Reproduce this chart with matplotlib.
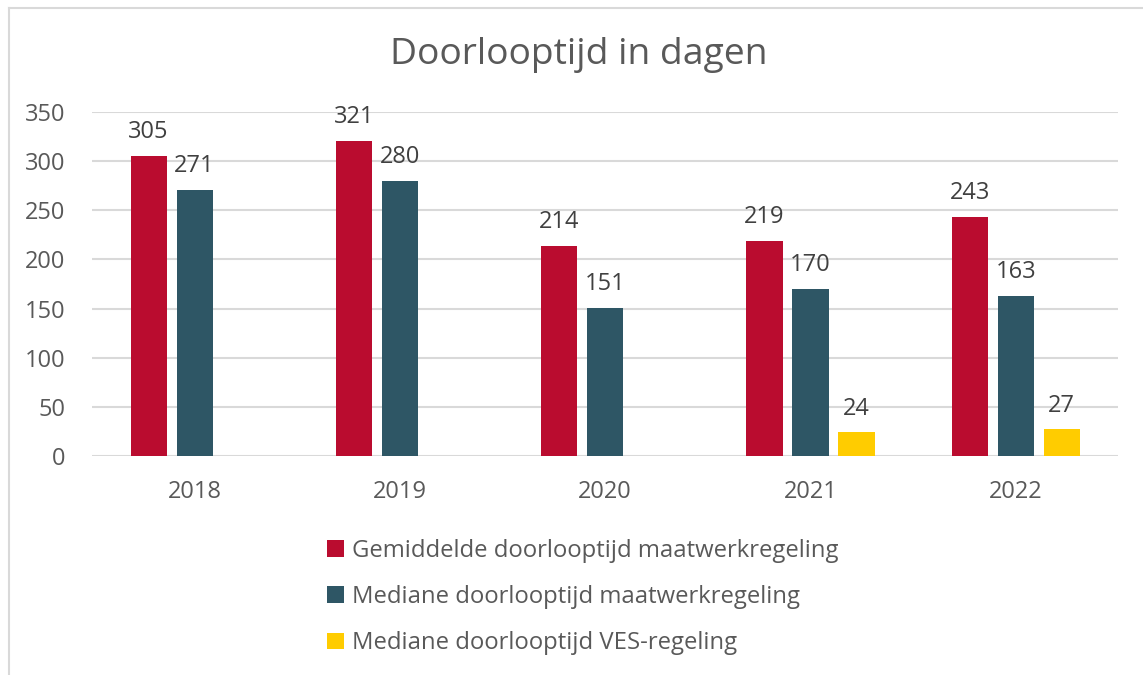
#!/usr/bin/env python3

import numpy as np
import matplotlib.pyplot as plt
from matplotlib.lines import Line2D

plt.rcParams['font.family'] = ['Open Sans', 'DejaVu Sans']

# Data
jaren = ['2018', '2019', '2020', '2021', '2022']
gemiddelde_maatwerk = [305, 321, 214, 219, 243]
mediaan_maatwerk = [271, 280, 151, 170, 163]
mediaan_ves = [np.nan, np.nan, np.nan, 24, 27]
series_labels = ['Gemiddelde doorlooptijd maatwerkregeling',
                 'Mediane doorlooptijd maatwerkregeling',
                 'Mediane doorlooptijd VES-regeling']
yticks = [0, 50, 100, 150, 200, 250, 300, 350]

kleuren = ['#BA0C2F', '#2E5665', '#FFCC00']
tekst_kleur = '#595959'
label_kleur = '#404040'


def main():
    fig = plt.figure(figsize=(11.43, 6.75), dpi=100)
    ax = fig.add_axes([0.0805, 0.3244, 0.898, 0.5096])

    x = np.arange(len(jaren))
    width = 0.176
    offset = 0.224
    reeksen = [gemiddelde_maatwerk, mediaan_maatwerk, mediaan_ves]

    for k, (waarden, kleur, label) in enumerate(zip(reeksen, kleuren, series_labels)):
        pos = x + (k - 1) * offset
        bars = ax.bar(pos, waarden, width=width, color=kleur, label=label, zorder=3)
        for b, v in zip(bars, waarden):
            if np.isnan(v):
                continue
            ax.annotate(f'{v:g}', (b.get_x() + b.get_width() / 2, v),
                        xytext=(0, 8.5), textcoords='offset points',
                        ha='center', va='bottom', fontsize=17, color=label_kleur)

    ax.set_xlim(-0.5, len(jaren) - 0.5)
    ax.set_ylim(0, 350)
    ax.set_yticks(yticks)
    ax.set_xticks(x)
    ax.set_xticklabels(jaren)
    ax.yaxis.grid(True, color='#D9D9D9', linewidth=1.5, zorder=0)
    ax.set_axisbelow(True)
    for s in ax.spines.values():
        s.set_visible(False)
    ax.tick_params(axis='both', length=0, labelsize=17, labelcolor=tekst_kleur)
    ax.tick_params(axis='y', pad=19)
    ax.tick_params(axis='x', pad=17)

    fig.text(0.506, 0.918, 'Doorlooptijd in dagen', ha='center', va='center',
             fontsize=26.8, color=tekst_kleur)

    leg = fig.legend(loc='upper left', bbox_to_anchor=(0.278, 0.216), ncol=1,
                     frameon=False, fontsize=17.2, handlelength=0.68, handleheight=0.68,
                     handletextpad=0.35, labelspacing=0.93, borderaxespad=0)
    for t in leg.get_texts():
        t.set_color(tekst_kleur)

    # chart border (cropped)
    fig.add_artist(Line2D([9 / 1143, 9 / 1143], [0, 1 - 8 / 675],
                          transform=fig.transFigure, color='#D9D9D9', linewidth=1.5))
    fig.add_artist(Line2D([9 / 1143, 1], [1 - 8 / 675, 1 - 8 / 675],
                          transform=fig.transFigure, color='#D9D9D9', linewidth=1.5))

    fig.savefig('out.png', dpi=100)


if __name__ == "__main__":
    main()
